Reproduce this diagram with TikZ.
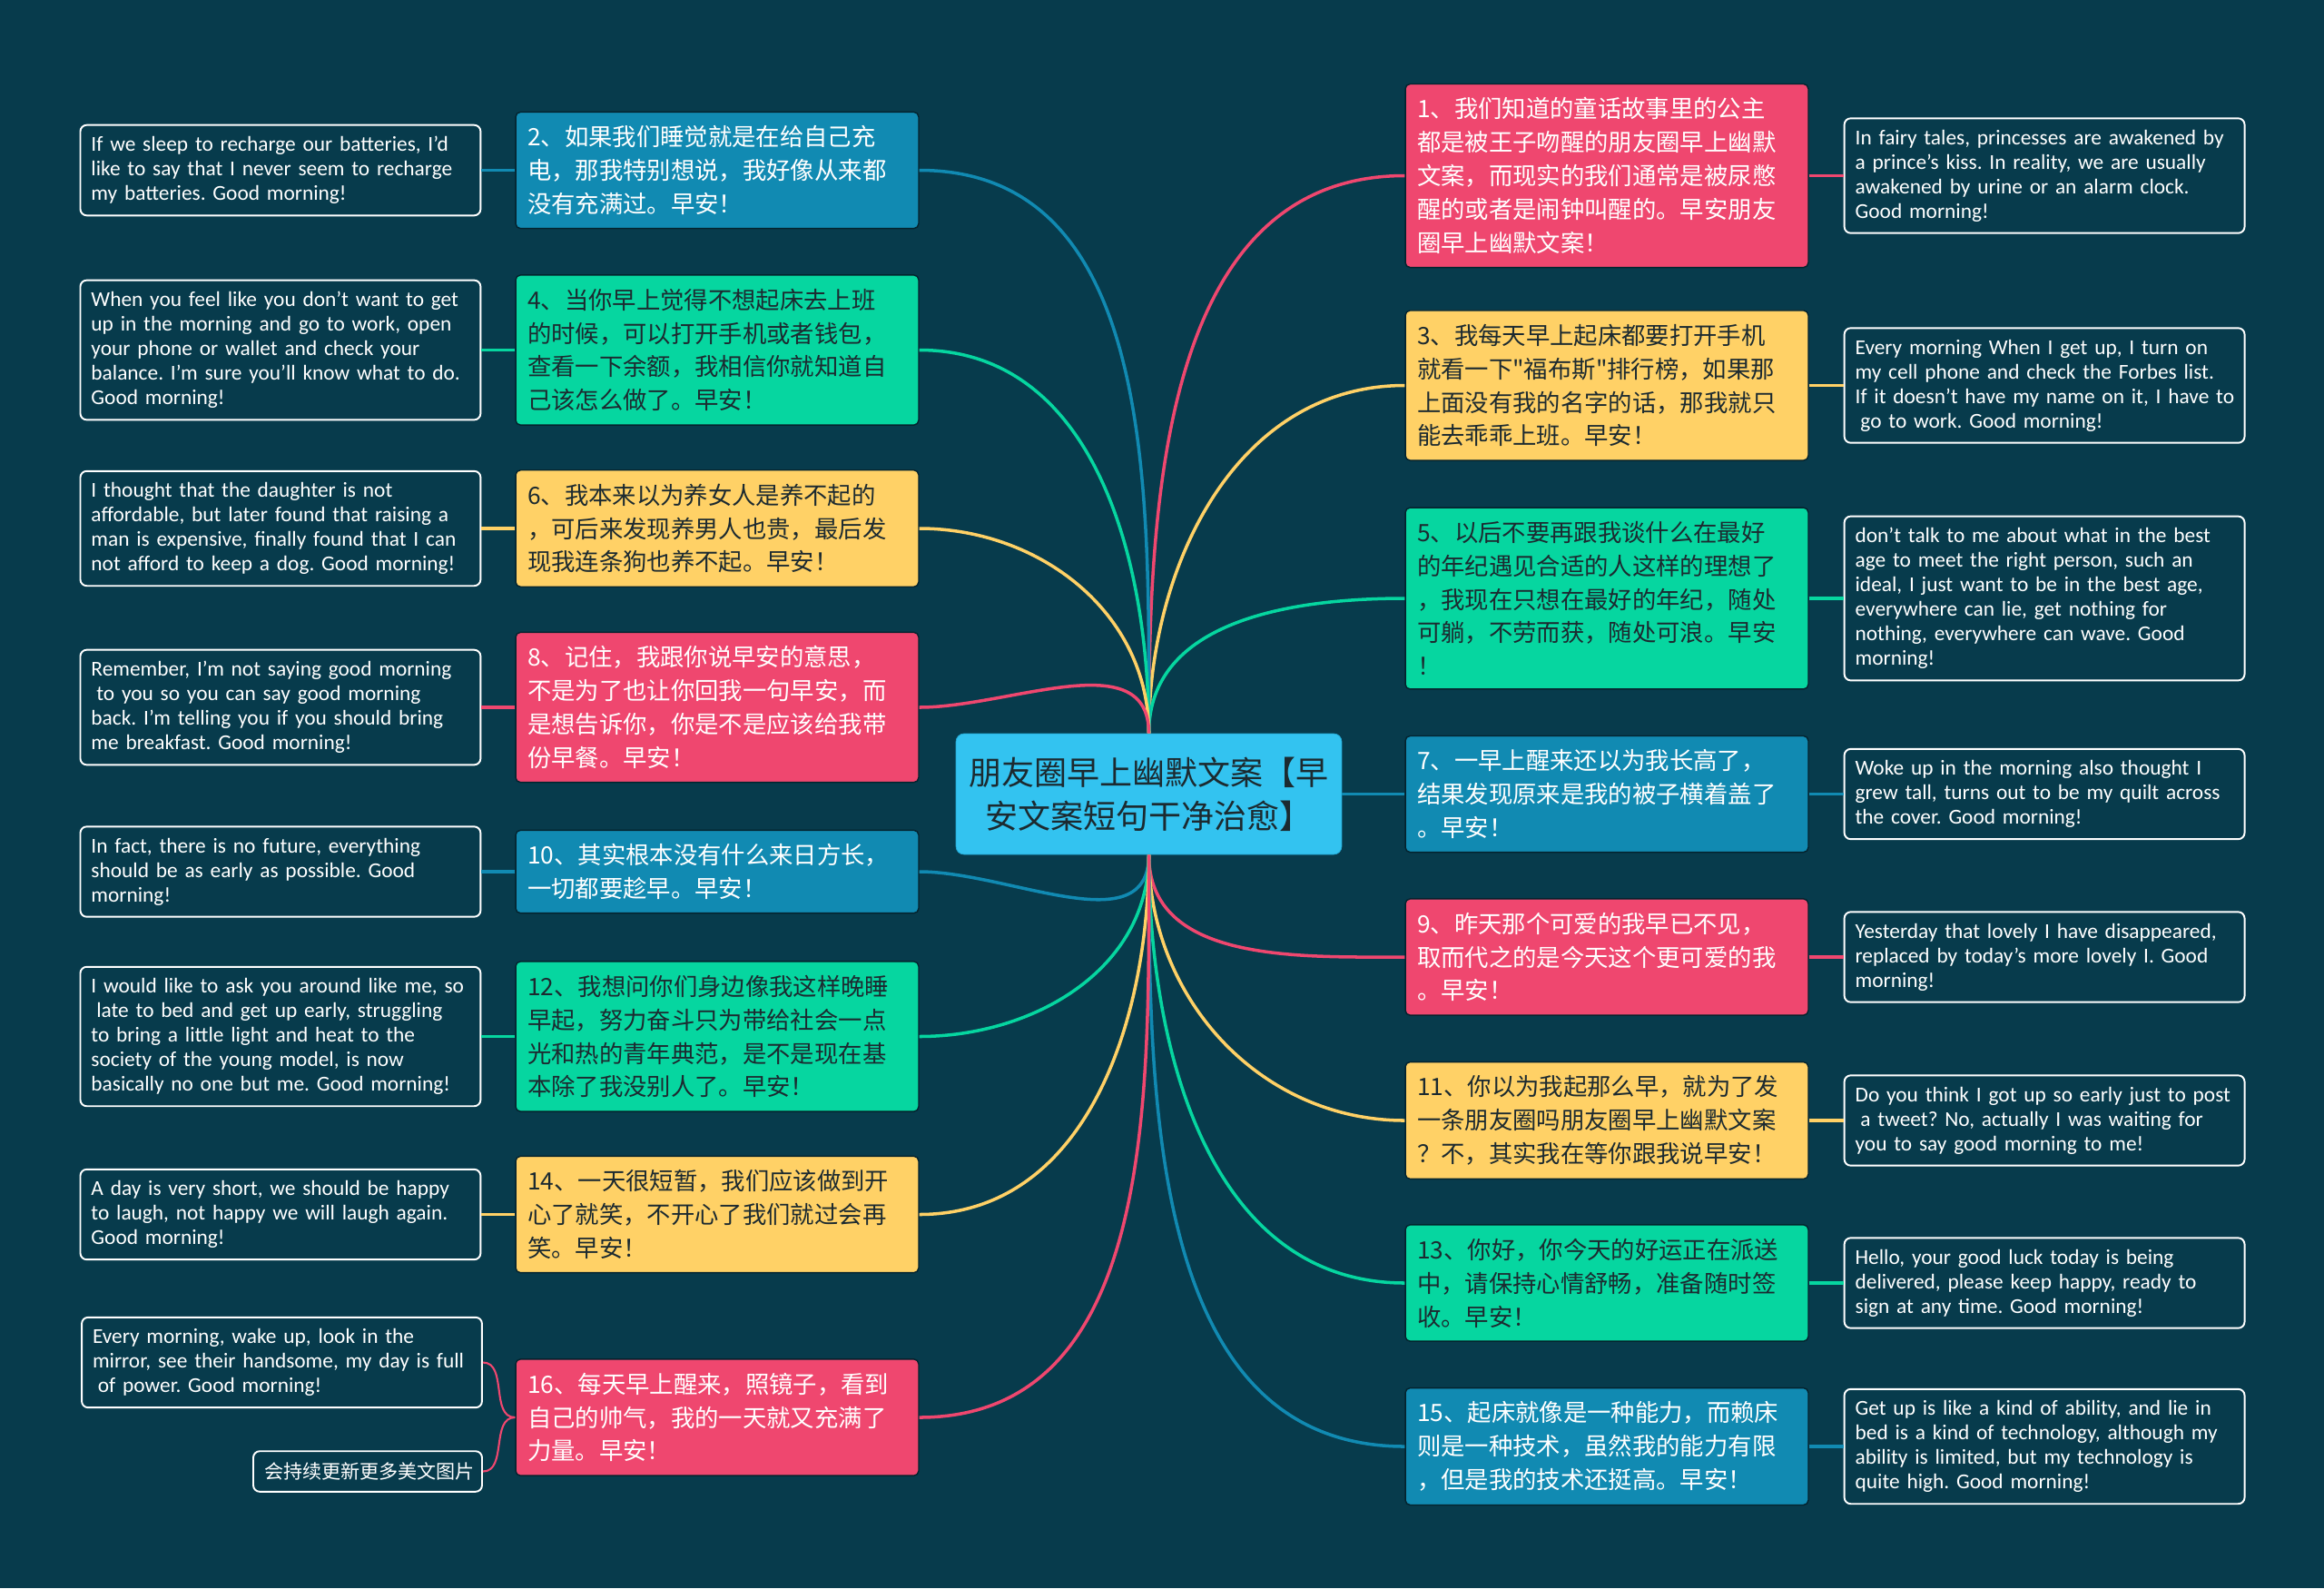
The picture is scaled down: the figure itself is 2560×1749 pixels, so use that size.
\documentclass[tikz,border=0pt]{standalone}
\usepackage{fontspec}
\setmainfont{Carlito}
\newfontfamily\cjk{Noto Sans CJK SC}
\usetikzlibrary{positioning}
\definecolor{bgdark}{HTML}{073B4C}
\definecolor{mmpink}{HTML}{EF476F}
\definecolor{mmyellow}{HTML}{FFD166}
\definecolor{mmgreen}{HTML}{06D6A0}
\definecolor{mmblue}{HTML}{118AB2}
\definecolor{rootblue}{HTML}{33C3F0}
\definecolor{inkdark}{HTML}{1C2A30}
\frenchspacing

\begin{document}
\begin{tikzpicture}[x=0.02cm,y=-0.02cm,cn/.style={draw=bgdark!60!black,line width=0.8pt,rounded corners=3pt,align=left,text width=8.36cm,inner xsep=0.26cm,inner ysep=0.3cm,font=\cjk\fontsize{15}{21}\selectfont},pinkbox/.style={cn,fill=mmpink,text=white},bluebox/.style={cn,fill=mmblue,text=white},yellowbox/.style={cn,fill=mmyellow,text=inkdark},greenbox/.style={cn,fill=mmgreen,text=inkdark},en/.style={draw=white,line width=1.1pt,rounded corners=4pt,fill=bgdark,text=white,align=left,text width=8.34cm,inner xsep=0.24cm,inner ysep=0.25cm,font=\fontsize{13.3}{15.4}\selectfont},root/.style={fill=rootblue,draw=mmblue!50!rootblue,rounded corners=5pt,align=center,minimum width=8.5cm,minimum height=2.66cm,text=inkdark,font=\cjk\fontsize{20.5}{27.5}\selectfont},link/.style={line width=2pt}]
\useasboundingbox[fill=bgdark](0,0)rectangle(2560,1749);
\node[root](root)at(1265.5,874.5){朋友圈早上幽默文案【早\\安文案短句干净治愈】};
% right side
\node[pinkbox](c1)at(1770,193.5){1、我们知道的童话故事里的公主\\都是被王子吻醒的朋友圈早上幽默\\文案，而现实的我们通常是被尿憋\\醒的或者是闹钟叫醒的。早安朋友\\圈早上幽默文案！};
\node[yellowbox](c3)at(1770,424.5){3、我每天早上起床都要打开手机\\就看一下"福布斯"排行榜，如果那\\上面没有我的名字的话，那我就只\\能去乖乖上班。早安！};
\node[greenbox](c5)at(1770,659){5、以后不要再跟我谈什么在最好\\的年纪遇见合适的人这样的理想了\\，我现在只想在最好的年纪，随处\\可躺，不劳而获，随处可浪。早安\\！};
\node[bluebox](c7)at(1770,874.5){7、一早上醒来还以为我长高了，\\结果发现原来是我的被子横着盖了\\。早安！};
\node[pinkbox](c9)at(1770,1054){9、昨天那个可爱的我早已不见，\\取而代之的是今天这个更可爱的我\\。早安！};
\node[yellowbox](c11)at(1770,1234){11、你以为我起那么早，就为了发\\一条朋友圈吗朋友圈早上幽默文案\\？不，其实我在等你跟我说早安！};
\node[greenbox](c13)at(1770,1413){13、你好，你今天的好运正在派送\\中，请保持心情舒畅，准备随时签\\收。早安！};
\node[bluebox](c15)at(1770,1593){15、起床就像是一种能力，而赖床\\则是一种技术，虽然我的能力有限\\，但是我的技术还挺高。早安！};
\node[en,right=0.76cm of c1](e1){In fairy tales, princesses are awakened by\\a prince's kiss. In reality, we are usually\\awakened by urine or an alarm clock.\\Good morning!};
\node[en,right=0.76cm of c3](e3){Every morning When I get up, I turn on\\my cell phone and check the Forbes list.\\\mbox{If it doesn't have my name on it, I have to}\\\hspace*{0.25em}go to work. Good morning!};
\node[en,right=0.76cm of c5](e5){don't talk to me about what in the best\\age to meet the right person, such an\\ideal, I just want to be in the best age,\\everywhere can lie, get nothing for\\nothing, everywhere can wave. Good\\morning!};
\node[en,right=0.76cm of c7](e7){Woke up in the morning also thought I\\grew tall, turns out to be my quilt across\\the cover. Good morning!};
\node[en,right=0.76cm of c9](e9){Yesterday that lovely I have disappeared,\\replaced by today's more lovely I. Good\\morning!};
\node[en,right=0.76cm of c11](e11){\mbox{Do you think I got up so early just to post}\\\hspace*{0.25em}a tweet? No, actually I was waiting for\\you to say good morning to me!};
\node[en,right=0.76cm of c13](e13){Hello, your good luck today is being\\delivered, please keep happy, ready to\\sign at any time. Good morning!};
\node[en,right=0.76cm of c15](e15){Get up is like a kind of ability, and lie in\\bed is a kind of technology, although my\\ability is limited, but my technology is\\quite high. Good morning!};
% left side
\node[bluebox](c2)at(790,187.5){2、如果我们睡觉就是在给自己充\\电，那我特别想说，我好像从来都\\没有充满过。早安！};
\node[greenbox](c4)at(790,385.5){4、当你早上觉得不想起床去上班\\的时候，可以打开手机或者钱包，\\查看一下余额，我相信你就知道自\\己该怎么做了。早安！};
\node[yellowbox](c6)at(790,582){6、我本来以为养女人是养不起的\\，可后来发现养男人也贵，最后发\\现我连条狗也养不起。早安！};
\node[pinkbox](c8)at(790,779){8、记住，我跟你说早安的意思，\\不是为了也让你回我一句早安，而\\是想告诉你，你是不是应该给我带\\份早餐。早安！};
\node[bluebox](c10)at(790,960){10、其实根本没有什么来日方长，\\一切都要趁早。早安！};
\node[greenbox](c12)at(790,1141.5){12、我想问你们身边像我这样晚睡\\早起，努力奋斗只为带给社会一点\\光和热的青年典范，是不是现在基\\本除了我没别人了。早安！};
\node[yellowbox](c14)at(790,1337.5){14、一天很短暂，我们应该做到开\\心了就笑，不开心了我们就过会再\\笑。早安！};
\node[pinkbox](c16)at(790,1561){16、每天早上醒来，照镜子，看到\\自己的帅气，我的一天就又充满了\\力量。早安！};
\node[en,left=0.74cm of c2](e2){If we sleep to recharge our batteries, I'd\\like to say that I never seem to recharge\\my batteries. Good morning!};
\node[en,left=0.74cm of c4](e4){When you feel like you don't want to get\\up in the morning and go to work, open\\your phone or wallet and check your\\balance. I'm sure you'll know what to do.\\Good morning!};
\node[en,left=0.74cm of c6](e6){I thought that the daughter is not\\affordable, but later found that raising a\\man is expensive, finally found that I can\\not afford to keep a dog. Good morning!};
\node[en,left=0.74cm of c8](e8){Remember, I'm not saying good morning\\\hspace*{0.25em}to you so you can say good morning\\back. I'm telling you if you should bring\\me breakfast. Good morning!};
\node[en,left=0.74cm of c10](e10){In fact, there is no future, everything\\should be as early as possible. Good\\morning!};
\node[en,left=0.74cm of c12](e12){I would like to ask you around like me, so\\\hspace*{0.25em}late to bed and get up early, struggling\\to bring a little light and heat to the\\society of the young model, is now\\basically no one but me. Good morning!};
\node[en,left=0.74cm of c14](e14){A day is very short, we should be happy\\to laugh, not happy we will laugh again.\\Good morning!};
\node[en](e16)at(310.5,1500.5){Every morning, wake up, look in the\\mirror, see their handsome, my day is full\\\hspace*{0.25em}of power. Good morning!};
\node[en,text width=4.56cm,align=right,font=\cjk\fontsize{12}{15}\selectfont](more)at(405,1620.5){会持续更新更多美文图片};
% links
\draw[link,mmpink](root)to[out=90,in=180](c1.west);\draw[link,mmyellow](root)to[out=90,in=180](c3.west);\draw[link,mmgreen](root)to[out=90,in=180](c5.west);\draw[link,mmblue](root)--(c7);
\draw[link,mmpink](root)to[out=270,in=180](c9.west);\draw[link,mmyellow](root)to[out=270,in=180](c11.west);\draw[link,mmgreen](root)to[out=270,in=180](c13.west);\draw[link,mmblue](root)to[out=270,in=180](c15.west);
\draw[link,mmblue](root)to[out=90,in=0](c2.east);\draw[link,mmgreen](root)to[out=90,in=0](c4.east);\draw[link,mmyellow](root)to[out=90,in=0](c6.east);\draw[link,mmpink](root)to[out=90,in=0](c8.east);
\draw[link,mmblue](root)to[out=270,in=0](c10.east);\draw[link,mmgreen](root)to[out=270,in=0](c12.east);\draw[link,mmyellow](root)to[out=270,in=0](c14.east);\draw[link,mmpink](root)to[out=270,in=0](c16.east);
\draw[link,mmpink](c1)--(e1);\draw[link,mmyellow](c3)--(e3);\draw[link,mmgreen](c5)--(e5);\draw[link,mmblue](c7)--(e7);\draw[link,mmpink](c9)--(e9);\draw[link,mmyellow](c11)--(e11);\draw[link,mmgreen](c13)--(e13);\draw[link,mmblue](c15)--(e15);
\draw[link,mmblue](c2)--(e2);\draw[link,mmgreen](c4)--(e4);\draw[link,mmyellow](c6)--(e6);\draw[link,mmpink](c8)--(e8);\draw[link,mmblue](c10)--(e10);\draw[link,mmgreen](c12)--(e12);\draw[link,mmyellow](c14)--(e14);
\draw[link,mmpink,line width=1.2pt](c16.west)to[out=180,in=0](e16.east);\draw[link,mmpink,line width=1.2pt](c16.west)to[out=180,in=0](more.east);
\end{tikzpicture}
\end{document}
